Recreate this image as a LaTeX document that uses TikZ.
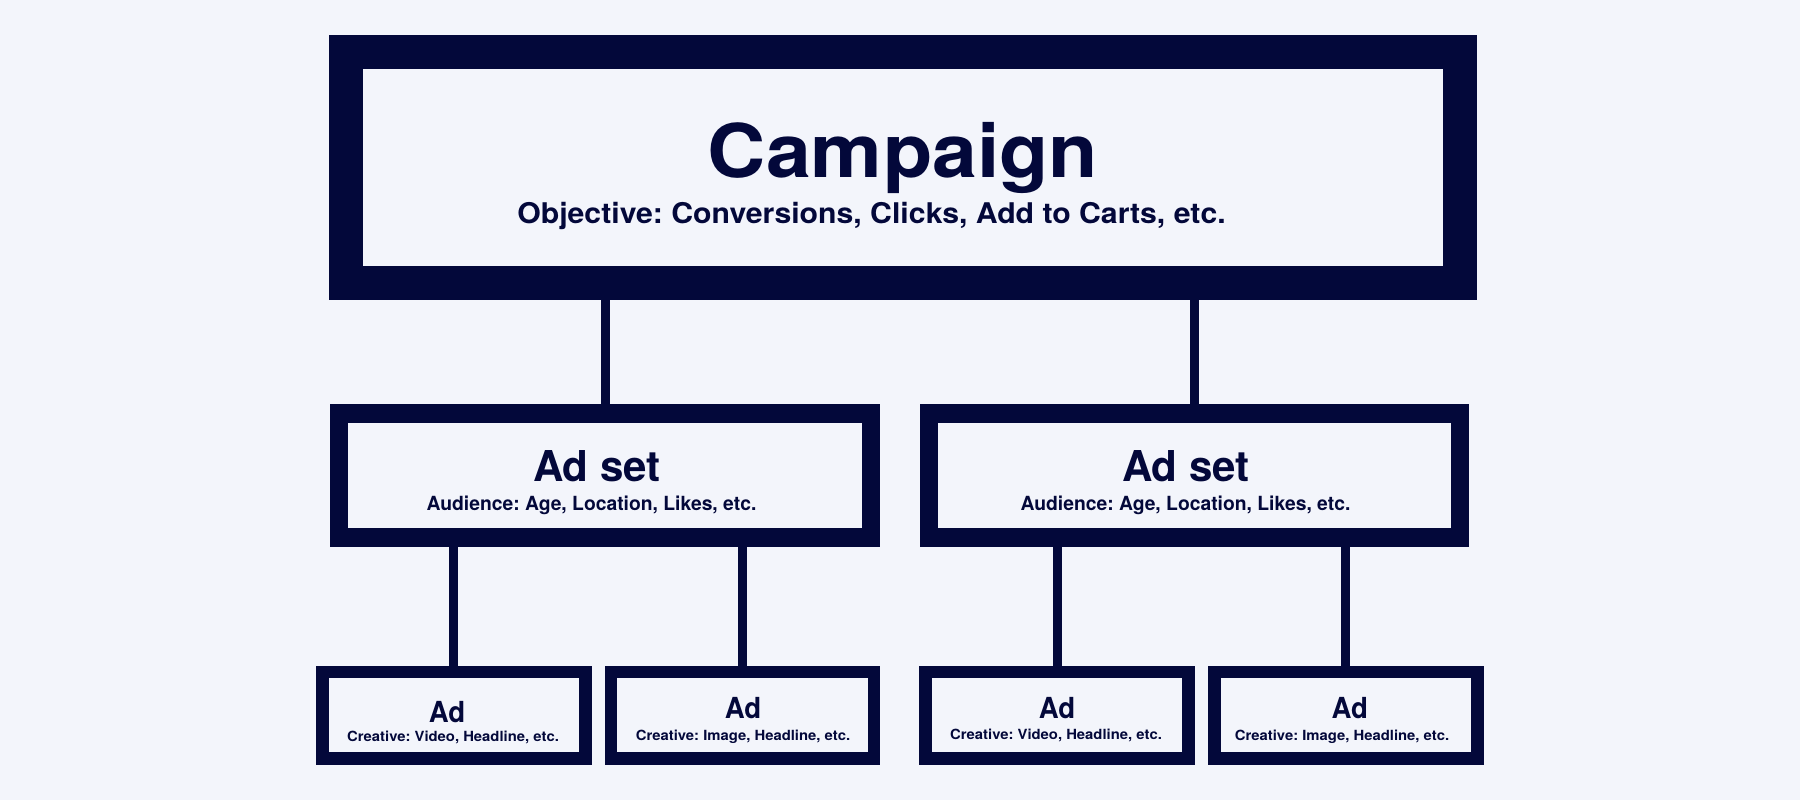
\documentclass[tikz,border=0pt]{standalone}
\usepackage{fontspec}
\setmainfont{TeX Gyre Heros}
\usepackage{graphicx}
\definecolor{navy}{RGB}{3,8,58}
\definecolor{bgc}{RGB}{243,245,251}
\newcommand\txt[3]{\fontsize{#1}{#1}\selectfont\bfseries\frenchspacing\scalebox{#2}[1]{#3}}
\begin{document}
\begin{tikzpicture}[x=1pt,y=-1pt,
  frame/.style={draw=navy, fill=bgc, inner sep=0pt},
  bigframe/.style={frame, line width=34pt, outer sep=17pt, minimum width=1114pt, minimum height=231pt},
  setframe/.style={frame, line width=18.3pt, outer sep=9.15pt, minimum width=531.5pt, minimum height=124pt},
  adframe/.style={frame, line width=12.7pt, outer sep=6.35pt, minimum width=262.8pt, minimum height=86.6pt},
  lbl/.style={anchor=base, inner sep=0pt, outer sep=0pt, text=navy},
  link/.style={draw=navy, line width=9pt}]
\fill[bgc] (0,0) rectangle (1800,800);
\useasboundingbox (0,0) rectangle (1800,800);

% boxes
\node[bigframe] (camp) at (903,167.5) {};
\node[setframe] (as1) at (605,475.5) {};
\node[setframe] (as2) at (1194.5,475.5) {};
\node[adframe] (ad1) at (453.8,715.3) {};
\node[adframe] (ad2) at (742.5,715.3) {};
\node[adframe] (ad3) at (1057,715.3) {};
\node[adframe] (ad4) at (1345.8,715.3) {};

% connectors
\draw[link] (camp.south -| as1.north) -- (as1.north);
\draw[link] (camp.south -| as2.north) -- (as2.north);
\draw[link] (as1.south -| ad1.north) -- (ad1.north);
\draw[link] (as1.south -| ad2.north) -- (ad2.north);
\draw[link] (as2.south -| ad3.north) -- (ad3.north);
\draw[link] (as2.south -| ad4.north) -- (ad4.north);

% texts
\node[lbl] (campT) at (903,177.5) {\txt{74}{1.09}{Campaign}};
\node[lbl] (campS) at (871.5,223) {\txt{28.5}{1.06}{Objective: Conversions, Clicks, Add to Carts, etc.}};
\node[lbl] (as1T) at (597,481.5) {\txt{42.5}{0.99}{Ad set}};
\node[lbl] (as1S) at (591.5,510.5) {\txt{19.5}{0.99}{Audience: Age, Location, Likes, etc.}};
\node[lbl] (as2T) at (1186,481.5) {\txt{42.5}{0.99}{Ad set}};
\node[lbl] (as2S) at (1185.5,510.5) {\txt{19.5}{0.99}{Audience: Age, Location, Likes, etc.}};
\node[lbl] (ad1T) at (447,722) {\txt{29}{0.95}{Ad}};
\node[lbl] (ad1S) at (453,741) {\txt{14}{1.06}{Creative: Video, Headline, etc.}};
\node[lbl] (ad2T) at (743,718.5) {\txt{29}{0.95}{Ad}};
\node[lbl] (ad2S) at (743,740) {\txt{14}{1.06}{Creative: Image, Headline, etc.}};
\node[lbl] (ad3T) at (1057,718.3) {\txt{29}{0.95}{Ad}};
\node[lbl] (ad3S) at (1056,739.5) {\txt{14}{1.06}{Creative: Video, Headline, etc.}};
\node[lbl] (ad4T) at (1349.7,718.3) {\txt{29}{0.95}{Ad}};
\node[lbl] (ad4S) at (1342,740) {\txt{14}{1.06}{Creative: Image, Headline, etc.}};
\end{tikzpicture}
\end{document}
